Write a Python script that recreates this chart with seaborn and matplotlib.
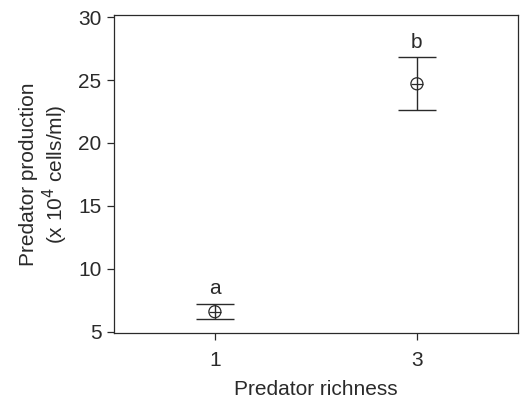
import numpy as np
import pandas as pd
import matplotlib
matplotlib.use("Agg")
import matplotlib.pyplot as plt
import seaborn as sns

# data
richness = [1, 3]
production = [6.6, 24.7]
err_low = [6.0, 22.6]
err_high = [7.2, 26.8]
letters = ["a", "b"]

df = pd.DataFrame({"richness": richness, "production": production})

sns.set_style("ticks")
plt.rcParams['font.family'] = ['Liberation Sans', 'DejaVu Sans']

ink = "#2a2a2a"
fs = 15
fig, ax = plt.subplots(figsize=(5.2, 3.99), dpi=100)
fig.subplots_adjust(left=0.219, right=0.996, top=0.962, bottom=0.165)

# error bars with wide caps
yerr = np.array([np.array(production) - np.array(err_low),
                 np.array(err_high) - np.array(production)])
ax.errorbar(richness, production, yerr=yerr, fmt='none', ecolor=ink,
            elinewidth=1.0, capsize=14, capthick=1.0, zorder=2)

# open circle marker with a bar through it
sns.scatterplot(data=df, x="richness", y="production", ax=ax, marker='o',
                s=75, facecolor='none', edgecolor=ink, linewidth=0.9, zorder=3)
sns.scatterplot(data=df, x="richness", y="production", ax=ax, marker='_',
                s=75, color=ink, linewidth=0.9, zorder=3)

# significance letters
for x, top, lab in zip(richness, err_high, letters):
    ax.annotate(lab, (x, top), xytext=(0, 11), textcoords='offset points',
                ha='center', va='center', fontsize=fs, color=ink)

ax.set_xlim(0, 4)
ax.set_ylim(4.9, 30.15)
ax.set_xticks(richness)
ax.set_yticks([5, 10, 15, 20, 25, 30])
ax.tick_params(labelsize=fs, colors=ink, length=5, width=0.9, pad=4)
ax.tick_params(axis='x', pad=8)
for sp in ax.spines.values():
    sp.set_visible(True)
    sp.set_color(ink)
    sp.set_linewidth(0.9)

ax.set_xlabel("Predator richness", fontsize=fs, color=ink, labelpad=7)
ax.set_ylabel("Predator production\n(x 10$^4$ cells/ml)", fontsize=fs,
              color=ink, linespacing=1.1, labelpad=6)

plt.savefig("out.png", dpi=100)
plt.close()
